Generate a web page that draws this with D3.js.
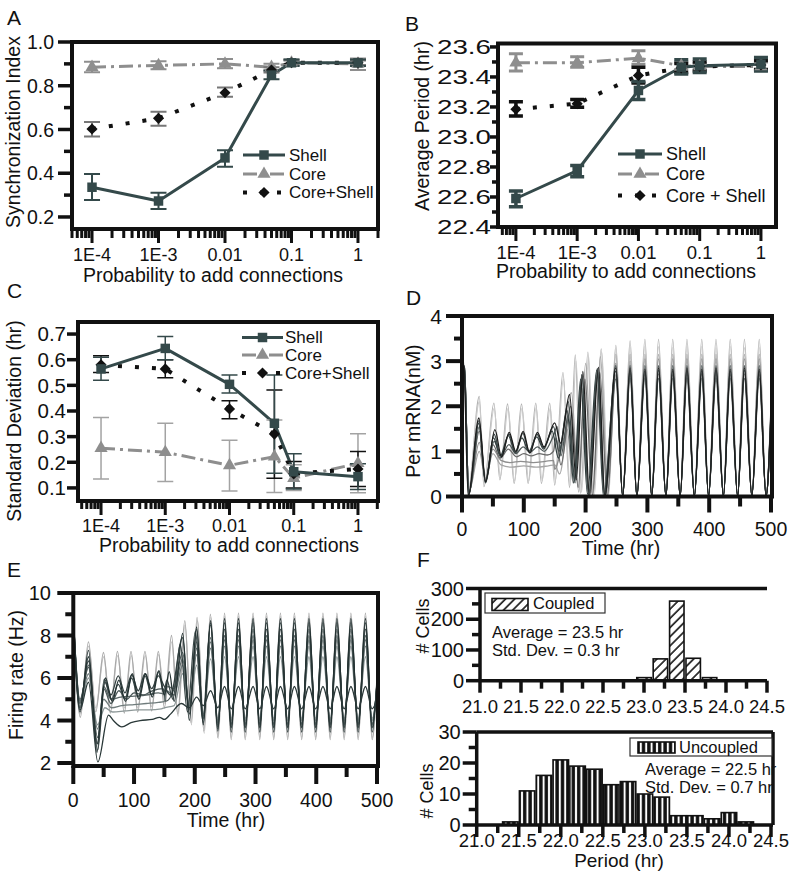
<!DOCTYPE html>
<html><head><meta charset="utf-8">
<script src="https://cdn.jsdelivr.net/npm/d3@7/dist/d3.min.js"></script>
<style>
html,body{margin:0;padding:0;background:#fff;}
svg{display:block;}
text{font-family:Arial,"Liberation Sans",Helvetica,sans-serif;fill:#111;}
</style></head>
<body>
<svg id="fig" width="793" height="881" xmlns="http://www.w3.org/2000/svg"></svg>
<script>
// ================= DATA =================
const probX = [1e-4, 1e-3, 0.01, 0.05, 0.1, 1];
const probTicks = [1e-4, 1e-3, 0.01, 0.1, 1];
const probTickLabels = ["1E-4", "1E-3", "0.01", "0.1", "1"];
const seriesNames = ["Shell", "Core", "Core+Shell"];

// Panel A: synchronization index
const syncShell   = [0.336, 0.273, 0.470, 0.849, 0.905, 0.905];
const syncShellLo = [0.278, 0.237, 0.430, 0.830, 0.890, 0.890];
const syncShellHi = [0.397, 0.311, 0.505, 0.870, 0.920, 0.920];
const syncCore    = [0.885, 0.893, 0.900, 0.885, 0.905, 0.900];
const syncCoreLo  = [0.862, 0.875, 0.880, 0.870, 0.890, 0.872];
const syncCoreHi  = [0.910, 0.912, 0.922, 0.900, 0.920, 0.925];
const syncBoth    = [0.602, 0.651, 0.768, 0.872, 0.905, 0.905];
const syncBothLo  = [0.568, 0.617, 0.750, 0.860, 0.895, 0.895];
const syncBothHi  = [0.634, 0.681, 0.792, 0.885, 0.915, 0.915];

// Panel B: average period (hr)
const perShell   = [22.590, 22.775, 23.310, 23.465, 23.475, 23.485];
const perShellLo = [22.535, 22.735, 23.250, 23.420, 23.430, 23.440];
const perShellHi = [22.640, 22.810, 23.370, 23.515, 23.520, 23.530];
const perCore    = [23.495, 23.495, 23.525, 23.475, 23.470, 23.470];
const perCoreLo  = [23.440, 23.465, 23.485, 23.450, 23.450, 23.445];
const perCoreHi  = [23.555, 23.535, 23.575, 23.500, 23.490, 23.500];
const perBoth    = [23.185, 23.222, 23.410, 23.460, 23.470, 23.480];
const perBothLo  = [23.140, 23.198, 23.360, 23.430, 23.440, 23.450];
const perBothHi  = [23.235, 23.250, 23.465, 23.490, 23.500, 23.510];

// Panel C: standard deviation (hr)
const sdShell   = [0.564, 0.644, 0.504, 0.352, 0.163, 0.144];
const sdShellLo = [0.520, 0.600, 0.470, 0.157, 0.096, 0.094];
const sdShellHi = [0.610, 0.690, 0.540, 0.540, 0.233, 0.194];
const sdCore    = [0.255, 0.239, 0.188, 0.222, 0.138, 0.196];
const sdCoreLo  = [0.135, 0.125, 0.088, 0.082, 0.090, 0.081];
const sdCoreHi  = [0.375, 0.352, 0.286, 0.365, 0.190, 0.311];
const sdBoth    = [0.580, 0.564, 0.408, 0.310, 0.155, 0.174];
const sdBothLo  = [0.550, 0.530, 0.370, 0.138, 0.100, 0.106];
const sdBothHi  = [0.615, 0.600, 0.440, 0.482, 0.203, 0.242];

// Panels D/E: shared landmark times of the synchronized regime (hr)
const syncPeakT   = [249, 272, 296, 318, 341, 364, 388, 411, 434, 457, 481];
const syncTroughT = [260, 283, 307, 330, 353, 376, 399, 423, 446, 469, 492];
const timeTicks = [0, 100, 200, 300, 400, 500];
const timeMinorTicks = [50, 150, 250, 350, 450];

// Panel D: Per mRNA (nM) traces – early landmarks [t, value]
const perTracePre = [
  [[0,2.9],[3,2.97],[10,0.07],[28,2.22],[35.5,0.22],[51.6,2.07],[61.3,0.37],[73.7,2.05],[84.4,0.29],[96.3,2.05],[107,0.29],[119.4,2.07],[128.5,0.29],[142,2.07],[150,0.25],[163.4,2.75],[174,0.2],[183.3,3.14],[192,0.07],[203.8,3.2],[212,0],[225.3,3.27],[236,0]],
  [[0,2.85],[3,2.9],[10,0.1],[28,2.1],[36,0.3],[52,1.95],[62,0.45],[74.5,1.95],[85,0.35],[97,1.95],[108,0.35],[120,1.97],[129.5,0.35],[143,1.97],[151,0.35],[164,2.6],[175,0.25],[184.5,3.0],[193.5,0.1],[205,3.1],[214,0.02],[226,3.2],[237,0]],
  [[0,2.8],[4,2.7],[11,0.1],[28,1.0],[38,0.4],[50,0.95],[63,0.7],[80,0.65],[100,0.68],[120,0.65],[140,0.68],[150,0.7],[158,0.5],[177,2.3],[189,0.1],[200,2.95],[212,0.02],[224,3.1],[236,0]],
  [[0,2.85],[4,2.75],[11,0.08],[28,1.2],[38,0.38],[50,1.05],[63,0.8],[78,0.75],[95,0.78],[115,0.75],[135,0.78],[148,0.8],[150,0.6],[158,0.9],[170,1.5],[180,0.3],[194,2.4],[205,0.05],[220,2.7],[232,0]],
  [[0,2.9],[4,2.8],[11,0.05],[28,1.45],[38,0.35],[50,1.15],[62,0.85],[75,1.05],[88,0.88],[100,0.95],[112,0.9],[125,0.95],[138,0.92],[148,1.0],[152,1.3],[160,0.7],[176,2.0],[188,0.2],[199,2.6],[211,0.02],[223,2.75],[235,0]],
  [[0,2.9],[4,2.8],[11,0.05],[28,1.55],[38,0.3],[52,1.22],[63,0.9],[76,1.15],[87,0.95],[99,1.1],[110,0.98],[122,1.1],[133,1.0],[148,1.35],[154,1.55],[160,0.9],[172,1.8],[182,0.35],[194,2.7],[205,0.02],[220,2.82],[231,0]],
  [[0,2.95],[4,2.85],[11,0.05],[27,1.62],[38,0.32],[51,1.3],[62,0.9],[75,1.35],[86,0.98],[97,1.3],[108,1.0],[121,1.32],[132,1.05],[146,1.45],[156,0.85],[170,1.9],[181,0.3],[192,2.6],[203,0.05],[218,2.8],[229,0]],
  [[0,2.95],[4,2.85],[11,0.03],[27.5,1.68],[38,0.31],[52,1.38],[63,0.86],[76,1.38],[87,0.97],[98.5,1.4],[109,0.98],[121.5,1.38],[132,1.08],[148,1.55],[157,1.0],[172,2.1],[183,0.3],[194,2.7],[205,0.02],[219,2.84],[230,0]],
  [[0,2.95],[3,2.9],[10,0.02],[27.4,1.74],[38.2,0.33],[53.2,1.48],[64,0.88],[76.3,1.42],[87.1,1.0],[98.9,1.44],[109.7,0.96],[122,1.42],[132.8,1.1],[150,1.63],[159.7,1.18],[174,2.26],[184.8,0.37],[195.6,2.77],[206.4,0],[221,2.86],[231,0]]
];
const perTracePeaks = [
  [3.35,3.45,3.48,3.48,3.48,3.48,3.48,3.48,3.48,3.48,3.48],
  [3.28,3.30,3.32,3.32,3.30,3.32,3.32,3.30,3.32,3.30,3.30],
  [3.15,3.15,3.15,3.15,3.15,3.15,3.15,3.15,3.15,3.15,3.15],
  [2.95,3.00,3.05,3.05,3.05,3.05,3.05,3.05,3.05,3.05,3.05],
  [2.70,2.72,2.70,2.72,2.70,2.70,2.72,2.70,2.70,2.72,2.70],
  [2.60,2.62,2.62,2.62,2.62,2.62,2.62,2.62,2.62,2.62,2.62],
  [2.78,2.80,2.78,2.80,2.78,2.80,2.78,2.80,2.78,2.80,2.78],
  [2.90,2.90,2.90,2.90,2.90,2.90,2.90,2.90,2.90,2.90,2.90],
  [2.85,2.85,2.82,2.85,2.82,2.85,2.82,2.85,2.82,2.85,2.82]
];
const perTraceTroughs = [
  [0,0,0,0,0,0,0,0,0,0,0],
  [0,0,0,0,0,0,0,0,0,0,0],
  [0,0,0,0,0,0,0,0,0,0,0],
  [0,0,0,0,0,0,0,0,0,0,0],
  [0,0,0,0,0,0,0,0,0,0,0],
  [0.02,0.02,0.02,0.02,0.02,0.02,0.02,0.02,0.02,0.02,0.02],
  [0.02,0.02,0.02,0.02,0.02,0.02,0.02,0.02,0.02,0.02,0.02],
  [0,0,0,0,0,0,0,0,0,0,0],
  [0,0,0,0,0,0,0,0,0,0,0]
];
const perTraceEnd = [2.05, 1.95, 2.0, 1.95, 1.8, 1.7, 1.8, 1.85, 1.9];
const perTraceColors = ["#b3b3b3","#cbcbcb","#a5a5a5","#8e8e8e","#6a6a6a","#4e5858","#2f3c3c","#3d4848","#1c1c1c"];

// Panel E: firing rate (Hz) traces
const fireTracePre = [
  [[0,9.1],[11,4.3],[25,7.5],[37,4.6],[50,7.0],[61,4.6],[73,7.05],[84,4.6],[95.5,7.05],[106,4.6],[118.5,7.05],[129,4.65],[140.5,7.1],[151,4.8],[162,7.7],[172.5,4.2],[184,8.5],[194.5,3.8],[204.5,8.7],[215.5,3.4],[226.5,8.85],[238.5,3.15]],
  [[0,9.2],[11.5,4.15],[25,7.7],[37,4.4],[49.7,7.2],[61,4.35],[72.7,7.25],[84,4.35],[95,7.25],[106,4.4],[118,7.25],[129,4.45],[140,7.25],[150,4.6],[161.7,8.0],[172,4.3],[183.6,8.7],[194,3.9],[203.8,8.85],[215,3.5],[225.7,9.0],[238,3.2]],
  [[0,9.0],[11,4.7],[25,6.0],[40,3.8],[52,4.6],[65,4.4],[85,4.45],[105,4.5],[125,4.5],[145,4.55],[150,4.6],[166,4.7],[180,6.2],[191,4.6],[203,6.6],[214,4.3],[226,6.9],[238,4.1]],
  [[0,8.9],[11,4.9],[25,6.2],[40,3.6],[50,5.0],[63,4.6],[80,4.7],[100,4.75],[120,4.8],[140,4.85],[150,4.9],[153,5.4],[166,5.2],[180,6.6],[191,4.7],[203,7.1],[214,4.3],[226,7.4],[238,4.0]],
  [[0,8.8],[11,4.9],[25,6.6],[40,2.9],[50,5.6],[62,5.0],[78,5.1],[100,5.15],[120,5.2],[140,5.3],[150,5.25],[155,5.6],[166,5.5],[180,6.9],[191,4.5],[203,7.4],[214,4.1],[226,7.7],[238,3.8]],
  [[0,8.85],[11,5.0],[25,6.5],[40,3.2],[50,5.5],[62,4.8],[75,5.4],[88,5.0],[100,5.3],[115,5.2],[130,5.4],[148,5.5],[152,4.9],[166,5.5],[180,7.2],[191,4.6],[203,7.7],[214,4.2],[226,7.9],[238,3.9]],
  [[0,8.8],[11,4.8],[25,6.8],[40,2.6],[52,5.8],[63,5.0],[74,5.7],[85,5.0],[96,6.0],[107,5.1],[118,6.1],[129,5.2],[140,6.3],[149,5.3],[154,5.9],[164,5.0],[176,7.6],[188,4.4],[201,8.2],[213,4.0],[226,8.5],[238,3.7]],
  [[0,8.95],[11,4.4],[25,7.3],[39,2.5],[51,5.95],[62,5.2],[74,6.1],[85,5.3],[96,6.15],[107,5.4],[118,6.2],[129,5.5],[140,6.1],[150,5.6],[160,5.2],[180,7.9],[191,4.3],[203,8.3],[214,3.9],[226,8.6],[238,3.6]],
  [[0,8.9],[11,4.6],[25,7.0],[39,2.9],[53,6.0],[64,4.9],[75,5.9],[86,4.9],[97,6.2],[108,5.0],[119,6.2],[130,5.1],[141,6.35],[150,5.2],[158,6.3],[166,4.9],[180,8.1],[191,4.0],[203,8.4],[214,3.8],[226,8.7],[238,3.5]],
  [[0,8.7],[11,4.5],[25,5.8],[40.4,2.05],[58,4.25],[66,4.0],[80,3.7],[95,3.9],[110,4.0],[130,4.05],[142,4.15],[150,4.05],[160,4.3],[178,4.8],[191,4.6],[203,5.1],[214,4.7],[226,5.4],[238,4.6]]
];
const fireTracePeaks = [
  [8.90,8.90,8.90,8.90,8.90,8.90,8.90,8.90,8.90,8.90,8.90],
  [9.05,9.05,9.05,9.05,9.05,9.05,9.05,9.05,9.05,9.05,9.05],
  [7.00,7.00,7.00,7.00,7.00,7.00,7.00,7.00,7.00,7.00,7.00],
  [7.50,7.50,7.50,7.50,7.50,7.50,7.50,7.50,7.50,7.50,7.50],
  [7.80,7.80,7.80,7.80,7.80,7.80,7.80,7.80,7.80,7.80,7.80],
  [8.00,8.00,8.00,8.00,8.00,8.00,8.00,8.00,8.00,8.00,8.00],
  [8.60,8.60,8.60,8.60,8.60,8.60,8.60,8.60,8.60,8.60,8.60],
  [8.30,8.30,8.30,8.30,8.30,8.30,8.30,8.30,8.30,8.30,8.30],
  [8.80,8.80,8.80,8.80,8.80,8.80,8.80,8.80,8.80,8.80,8.80],
  [5.60,5.60,5.60,5.60,5.60,5.60,5.60,5.60,5.60,5.60,5.60]
];
const fireTraceTroughs = [
  [3.20,3.20,3.20,3.20,3.20,3.20,3.20,3.20,3.20,3.20,3.20],
  [3.10,3.10,3.10,3.10,3.10,3.10,3.10,3.10,3.10,3.10,3.10],
  [4.10,4.10,4.10,4.10,4.10,4.10,4.10,4.10,4.10,4.10,4.10],
  [4.00,4.00,4.00,4.00,4.00,4.00,4.00,4.00,4.00,4.00,4.00],
  [3.80,3.80,3.80,3.80,3.80,3.80,3.80,3.80,3.80,3.80,3.80],
  [3.85,3.85,3.85,3.85,3.85,3.85,3.85,3.85,3.85,3.85,3.85],
  [3.65,3.65,3.65,3.65,3.65,3.65,3.65,3.65,3.65,3.65,3.65],
  [3.70,3.70,3.70,3.70,3.70,3.70,3.70,3.70,3.70,3.70,3.70],
  [3.45,3.45,3.45,3.45,3.45,3.45,3.45,3.45,3.45,3.45,3.45],
  [4.55,4.55,4.55,4.55,4.55,4.55,4.55,4.55,4.55,4.55,4.55]
];
const fireTraceEnd = [6.0, 6.1, 5.4, 5.6, 5.7, 5.7, 5.8, 5.8, 5.9, 5.0];
const fireTraceColors = ["#c6c6c6","#a9a9a9","#8d9898","#6f7b7b","#5b6767","#4b5858","#384646","#334040","#243232","#2a3838"];

// Panel F: period histograms
const coupledBins = [23.0, 23.2, 23.4, 23.6, 23.8];
const coupledCounts = [10, 71, 259, 73, 10];
const uncoupledBins = [21.4, 21.6, 21.8, 22.0, 22.2, 22.4, 22.6, 22.8, 23.0, 23.2, 23.4, 23.6, 23.8, 24.0, 24.2];
const uncoupledCounts = [1, 11, 16, 21, 19, 18, 13, 14, 10, 9, 3, 3, 2, 4, 1];
const periodTicks = [21.0, 21.5, 22.0, 22.5, 23.0, 23.5, 24.0, 24.5];
const periodMinorTicks = [21.25, 21.75, 22.25, 22.75, 23.25, 23.75, 24.25];

// ================= DRAWING =================
const svg = d3.select("#fig");
const defs = svg.append("defs");
const INK = "#111";

function label(x, y, s, size, anchor, rotate) {
  const t = svg.append("text").attr("x", x).attr("y", y)
    .attr("font-size", size).attr("text-anchor", anchor || "start").text(s);
  if (rotate) t.attr("transform", `rotate(-90 ${x} ${y})`);
  return t;
}

const STY = {
  shell: { color: "#34494a", dash: null, width: 3, sym: "square" },
  core:  { color: "#8e8e8e", dash: "14,5,3,5", width: 3, sym: "triangle" },
  both:  { color: "#111111", dash: "4,13", width: 4, sym: "diamond" }
};

function drawSym(g, sym, cx, cy, color) {
  if (sym === "square") {
    g.append("path").attr("d", d3.symbol(d3.symbolSquare, 90)())
      .attr("transform", `translate(${cx},${cy})`).attr("fill", color);
  } else if (sym === "triangle") {
    g.append("path").attr("d", d3.symbol(d3.symbolTriangle, 75)())
      .attr("transform", `translate(${cx},${cy})`).attr("fill", color);
  } else {
    g.append("path").attr("d", d3.symbol(d3.symbolSquare, 62)())
      .attr("transform", `translate(${cx},${cy}) rotate(45)`).attr("fill", color);
  }
}

function logPanel(o) {
  const x = d3.scaleLog().domain(o.xDomain).range([o.left, o.right]);
  const y = d3.scaleLinear().domain(o.yDomain).range([o.bottom, o.top]);
  const g = svg.append("g");
  const isDecade = d => Math.abs(Math.log10(d) - Math.round(Math.log10(d))) < 1e-6;
  g.selectAll(null).data(x.ticks()).enter().append("line")
    .attr("x1", d => x(d)).attr("x2", d => x(d))
    .attr("y1", o.bottom).attr("y2", d => o.bottom + (isDecade(d) ? o.xMajLen : o.xMinLen))
    .attr("stroke", INK).attr("stroke-width", 3);
  g.selectAll(null).data(probTicks).enter().append("text")
    .attr("x", d => x(d)).attr("y", o.xLabY).attr("text-anchor", "middle")
    .attr("font-size", o.xTickFont).text((d, i) => probTickLabels[i]);
  g.selectAll(null).data(o.yMajor).enter().append("line")
    .attr("x1", o.left - o.yMajLen).attr("x2", o.left).attr("y1", d => y(d)).attr("y2", d => y(d))
    .attr("stroke", INK).attr("stroke-width", 3.5);
  g.selectAll(null).data(o.yMinor).enter().append("line")
    .attr("x1", o.left - o.yMinLen).attr("x2", o.left).attr("y1", d => y(d)).attr("y2", d => y(d))
    .attr("stroke", INK).attr("stroke-width", 3.5);
  const yl = g.selectAll(null).data(o.yMajor).enter().append("text")
    .attr("x", o.yLabX).attr("y", d => y(d)).attr("dy", "0.36em").attr("text-anchor", "end")
    .attr("font-size", o.yTickFont).text(d => d3.format(".1f")(d));
  if (o.yLabLen) yl.attr("textLength", o.yLabLen).attr("lengthAdjust", "spacingAndGlyphs");
  const line = d3.line().x((d, i) => x(probX[i])).y(d => y(d));
  o.series.forEach(s => {
    g.append("path").datum(s.vals).attr("d", line).attr("fill", "none")
      .attr("stroke", s.sty.color).attr("stroke-width", s.sty.width)
      .attr("stroke-dasharray", s.sty.dash).attr("stroke-linejoin", "round");
  });
  o.series.forEach(s => {
    s.vals.forEach((v, i) => {
      const cx = x(probX[i]), c = s.cap;
      g.append("path")
        .attr("d", `M${cx - c},${y(s.lo[i])}H${cx + c}M${cx},${y(s.lo[i])}V${y(s.hi[i])}M${cx - c},${y(s.hi[i])}H${cx + c}`)
        .attr("fill", "none").attr("stroke", s.errColor).attr("stroke-width", s.errW);
    });
  });
  o.series.forEach(s => {
    s.vals.forEach((v, i) => drawSym(g, s.sty.sym, x(probX[i]), y(v), s.sty.color));
  });
  g.append("rect").attr("x", o.left).attr("y", o.top)
    .attr("width", o.right - o.left).attr("height", o.bottom - o.top)
    .attr("fill", "none").attr("stroke", INK).attr("stroke-width", 4);
  o.legend.rows.forEach((r, i) => {
    const ly = o.legend.ys[i];
    g.append("line").attr("x1", o.legend.x0).attr("x2", o.legend.x1).attr("y1", ly).attr("y2", ly)
      .attr("stroke", r.sty.color).attr("stroke-width", r.sty.width).attr("stroke-dasharray", r.sty.dash);
    drawSym(g, r.sty.sym, (o.legend.x0 + o.legend.x1) / 2, ly, r.sty.color);
    label(o.legend.tx, ly + o.legend.font * 0.34, r.name, o.legend.font);
  });
  label(o.titleX, o.titleY, "Probability to add connections", o.titleFont, "middle");
  label(o.yTitleX, o.yTitleY, o.yTitle, o.titleFont, "middle", true);
  label(o.letterX, o.letterY, o.letter, 21);
}

// ---------- Panel A ----------
logPanel({
  left: 72, right: 378, top: 42, bottom: 229,
  xDomain: [5e-5, 2], yDomain: [0.145, 1.0],
  yMajor: [0.2, 0.4, 0.6, 0.8, 1.0], yMinor: [0.3, 0.5, 0.7, 0.9],
  xMajLen: 14, xMinLen: 9, yMajLen: 14, yMinLen: 8, yLabX: 54, xLabY: 261, xTickFont: 18, yTickFont: 19.5,
  series: [
    { vals: syncCore, lo: syncCoreLo, hi: syncCoreHi, sty: STY.core, errColor: "#8e8e8e", errW: 2, cap: 8 },
    { vals: syncBoth, lo: syncBothLo, hi: syncBothHi, sty: STY.both, errColor: "#777", errW: 2, cap: 8 },
    { vals: syncShell, lo: syncShellLo, hi: syncShellHi, sty: STY.shell, errColor: "#34494a", errW: 2, cap: 8 }
  ],
  legend: { x0: 243, x1: 285, tx: 289, ys: [155, 174, 192.5], font: 17,
    rows: [{ name: seriesNames[0], sty: STY.shell }, { name: seriesNames[1], sty: STY.core }, { name: seriesNames[2], sty: STY.both }] },
  titleX: 213, titleY: 282, titleFont: 19.5,
  yTitle: "Synchronization Index", yTitleX: 20, yTitleY: 132,
  letter: "A", letterX: 7, letterY: 25
});

// ---------- Panel B ----------
logPanel({
  left: 498, right: 776, top: 43.5, bottom: 227,
  xDomain: [5.1e-5, 1.76], yDomain: [22.4, 23.623],
  yMajor: [22.4, 22.6, 22.8, 23.0, 23.2, 23.4, 23.6], yMinor: [22.5, 22.7, 22.9, 23.1, 23.3, 23.5],
  xMajLen: 14, xMinLen: 8, yMajLen: 8, yMinLen: 6, yLabX: 491, xLabY: 258.5, xTickFont: 18.5, yTickFont: 19.5, yLabLen: 54,
  series: [
    { vals: perCore, lo: perCoreLo, hi: perCoreHi, sty: STY.core, errColor: "#8e8e8e", errW: 3, cap: 7 },
    { vals: perBoth, lo: perBothLo, hi: perBothHi, sty: STY.both, errColor: "#111", errW: 3.5, cap: 7 },
    { vals: perShell, lo: perShellLo, hi: perShellHi, sty: STY.shell, errColor: "#34494a", errW: 3.5, cap: 7 }
  ],
  legend: { x0: 618, x1: 662, tx: 666, ys: [154, 174, 195.5], font: 18,
    rows: [{ name: seriesNames[0], sty: STY.shell }, { name: seriesNames[1], sty: STY.core }, { name: "Core + Shell", sty: STY.both }] },
  titleX: 626, titleY: 277.5, titleFont: 19.5,
  yTitle: "Average Period (hr)", yTitleX: 429, yTitleY: 126,
  letter: "B", letterX: 405, letterY: 31
});

// ---------- Panel C ----------
logPanel({
  left: 78, right: 378, top: 322, bottom: 501,
  xDomain: [4.38e-5, 2.05], yDomain: [0.049, 0.747],
  yMajor: [0.1, 0.2, 0.3, 0.4, 0.5, 0.6, 0.7], yMinor: [],
  xMajLen: 14, xMinLen: 8, yMajLen: 11, yMinLen: 6, yLabX: 66, xLabY: 532, xTickFont: 18, yTickFont: 20.5,
  series: [
    { vals: sdCore, lo: sdCoreLo, hi: sdCoreHi, sty: STY.core, errColor: "#a3a3a3", errW: 1.5, cap: 8 },
    { vals: sdBoth, lo: sdBothLo, hi: sdBothHi, sty: STY.both, errColor: "#111", errW: 1.5, cap: 8 },
    { vals: sdShell, lo: sdShellLo, hi: sdShellHi, sty: STY.shell, errColor: "#34494a", errW: 1.5, cap: 8 }
  ],
  legend: { x0: 242, x1: 283, tx: 285, ys: [337.5, 355, 373], font: 17,
    rows: [{ name: seriesNames[0], sty: STY.shell }, { name: seriesNames[1], sty: STY.core }, { name: seriesNames[2], sty: STY.both }] },
  titleX: 229, titleY: 552, titleFont: 19.5,
  yTitle: "Standard Deviation (hr)", yTitleX: 21, yTitleY: 421,
  letter: "C", letterX: 7, letterY: 298
});

// ---------- Trace panels (D, E) ----------
function buildTrace(pre, peaks, troughs, end) {
  const pts = pre.map(p => ({ t: p[0], v: p[1] }));
  peaks.forEach((v, i) => pts.push({ t: syncPeakT[i], v: v }));
  troughs.forEach((v, i) => pts.push({ t: syncTroughT[i], v: v }));
  pts.push({ t: 500, v: end });
  pts.sort((a, b) => a.t - b.t);
  return pts;
}

function tracePanel(o) {
  const x = d3.scaleLinear().domain([0, 500]).range([o.left, o.right0]);
  const y = d3.scaleLinear().domain(o.yDomain).range([o.bottom, o.top]);
  const g = svg.append("g");
  defs.append("clipPath").attr("id", o.id).append("rect")
    .attr("x", o.left).attr("y", o.top).attr("width", o.right - o.left).attr("height", o.bottom - o.top);
  const line = d3.line().x(d => x(d.t)).y(d => y(d.v)).curve(d3.curveMonotoneX);
  const lg = g.append("g").attr("clip-path", `url(#${o.id})`);
  o.pre.forEach((pre, i) => {
    lg.append("path").datum(buildTrace(pre, o.peaks[i], o.troughs[i], o.end[i]))
      .attr("d", line).attr("fill", "none").attr("stroke", o.colors[i])
      .attr("stroke-width", 1.3).attr("stroke-linejoin", "round");
  });
  g.append("rect").attr("x", o.left).attr("y", o.top)
    .attr("width", o.right - o.left).attr("height", o.bottom - o.top)
    .attr("fill", "none").attr("stroke", INK).attr("stroke-width", 4);
  g.selectAll(null).data(timeTicks).enter().append("line")
    .attr("x1", d => x(d)).attr("x2", d => x(d)).attr("y1", o.bottom).attr("y2", o.bottom + o.xMajLen)
    .attr("stroke", INK).attr("stroke-width", 4);
  g.selectAll(null).data(timeMinorTicks).enter().append("line")
    .attr("x1", d => x(d)).attr("x2", d => x(d)).attr("y1", o.bottom).attr("y2", o.bottom + o.xMinLen)
    .attr("stroke", INK).attr("stroke-width", 4);
  g.selectAll(null).data(timeTicks).enter().append("text")
    .attr("x", d => x(d)).attr("y", o.xLabY).attr("text-anchor", "middle")
    .attr("font-size", o.tickFont).text(d => d);
  g.selectAll(null).data(o.yMajor).enter().append("line")
    .attr("x1", o.left - o.yMajLen).attr("x2", o.left).attr("y1", d => y(d)).attr("y2", d => y(d))
    .attr("stroke", INK).attr("stroke-width", 4);
  g.selectAll(null).data(o.yMinor).enter().append("line")
    .attr("x1", o.left - o.yMinLen).attr("x2", o.left).attr("y1", d => y(d)).attr("y2", d => y(d))
    .attr("stroke", INK).attr("stroke-width", 4);
  g.selectAll(null).data(o.yMajor).enter().append("text")
    .attr("x", o.yLabX).attr("y", d => y(d)).attr("dy", "0.36em").attr("text-anchor", "end")
    .attr("font-size", o.yTickFont).text(d => d);
  label(o.titleX, o.titleY, "Time (hr)", 19.5, "middle");
  label(o.yTitleX, o.yTitleY, o.yTitle, 19.5, "middle", true);
  label(o.letterX, o.letterY, o.letter, 21);
}

tracePanel({
  id: "clipD", left: 462, right: 772, right0: 771, top: 316, bottom: 496.5,
  yDomain: [0, 4], yMajor: [0, 1, 2, 3, 4], yMinor: [0.5, 1.5, 2.5, 3.5],
  pre: perTracePre, peaks: perTracePeaks, troughs: perTraceTroughs, end: perTraceEnd, colors: perTraceColors,
  xMajLen: 16, xMinLen: 10, yMajLen: 16, yMinLen: 8, yLabX: 442, xLabY: 535.5, tickFont: 19.5, yTickFont: 21,
  titleX: 621, titleY: 554.5, yTitle: "Per mRNA(nM)", yTitleX: 420, yTitleY: 411,
  letter: "D", letterX: 406, letterY: 305
});

tracePanel({
  id: "clipE", left: 73.3, right: 378, right0: 377, top: 593, bottom: 766,
  yDomain: [1.86, 10], yMajor: [2, 4, 6, 8, 10], yMinor: [3, 5, 7, 9],
  pre: fireTracePre, peaks: fireTracePeaks, troughs: fireTraceTroughs, end: fireTraceEnd, colors: fireTraceColors,
  xMajLen: 18, xMinLen: 11, yMajLen: 16, yMinLen: 8, yLabX: 51, xLabY: 806.5, tickFont: 19.5, yTickFont: 20,
  titleX: 226, titleY: 826.5, yTitle: "Firing rate (Hz)", yTitleX: 23, yTitleY: 675,
  letter: "E", letterX: 7, letterY: 577
});

// ---------- Panel F: histograms ----------
const hatch = defs.append("pattern").attr("id", "hatch").attr("patternUnits", "userSpaceOnUse")
  .attr("width", 6.5).attr("height", 6.5).attr("patternTransform", "rotate(45)");
hatch.append("rect").attr("width", 6.5).attr("height", 6.5).attr("fill", "#fff");
hatch.append("line").attr("x1", 1).attr("x2", 1).attr("y1", 0).attr("y2", 6.5)
  .attr("stroke", "#111").attr("stroke-width", 1.6);
const stripes = defs.append("pattern").attr("id", "stripes").attr("patternUnits", "userSpaceOnUse")
  .attr("width", 5.4).attr("height", 10);
stripes.append("rect").attr("width", 5.4).attr("height", 10).attr("fill", "#111");
stripes.append("rect").attr("x", 2.6).attr("width", 2).attr("height", 10).attr("fill", "#fff");

function histPanel(o) {
  const x = d3.scaleLinear().domain([21, 24.5]).range([o.left, o.right]);
  const y = d3.scaleLinear().domain(o.yDomain).range([o.bottom, o.top]);
  const g = svg.append("g");
  g.selectAll(null).data(o.bins).enter().append("rect")
    .attr("x", d => x(d - o.barW / 2)).attr("width", d => x(d + o.barW / 2) - x(d - o.barW / 2))
    .attr("y", (d, i) => y(o.counts[i])).attr("height", (d, i) => y(0) - y(o.counts[i]))
    .attr("fill", o.fill).attr("stroke", "#111").attr("stroke-width", 1.6);
  g.append("line").attr("x1", o.left).attr("x2", o.frameRight).attr("y1", o.bottom).attr("y2", o.bottom)
    .attr("stroke", INK).attr("stroke-width", 3.5);
  g.append("line").attr("x1", o.left).attr("x2", o.left).attr("y1", o.top).attr("y2", o.bottom)
    .attr("stroke", INK).attr("stroke-width", 3.5);
  g.append("line").attr("x1", o.left).attr("x2", o.frameRight).attr("y1", o.top).attr("y2", o.top)
    .attr("stroke", INK).attr("stroke-width", 3.5);
  if (o.rightLine) g.append("line").attr("x1", o.frameRight).attr("x2", o.frameRight).attr("y1", o.top).attr("y2", o.bottom)
    .attr("stroke", INK).attr("stroke-width", 3.5);
  g.selectAll(null).data(periodTicks).enter().append("line")
    .attr("x1", d => x(d)).attr("x2", d => x(d)).attr("y1", o.bottom).attr("y2", o.bottom + 12)
    .attr("stroke", INK).attr("stroke-width", 3.5);
  g.selectAll(null).data(periodMinorTicks).enter().append("line")
    .attr("x1", d => x(d)).attr("x2", d => x(d)).attr("y1", o.bottom).attr("y2", o.bottom + 8)
    .attr("stroke", INK).attr("stroke-width", 3.5);
  g.selectAll(null).data(periodTicks).enter().append("text")
    .attr("x", d => x(d)).attr("y", o.xLabY).attr("text-anchor", "middle")
    .attr("font-size", 18.5).text(d => d3.format(".1f")(d));
  g.selectAll(null).data(o.yMajor).enter().append("line")
    .attr("x1", o.left - 14).attr("x2", o.left).attr("y1", d => y(d)).attr("y2", d => y(d))
    .attr("stroke", INK).attr("stroke-width", 3.5);
  g.selectAll(null).data(o.yMinor).enter().append("line")
    .attr("x1", o.left - 8).attr("x2", o.left).attr("y1", d => y(d)).attr("y2", d => y(d))
    .attr("stroke", INK).attr("stroke-width", 3.5);
  g.selectAll(null).data(o.yMajor).enter().append("text")
    .attr("x", o.left - 16).attr("y", d => y(d)).attr("dy", "0.36em").attr("text-anchor", "end")
    .attr("font-size", 20).text(d => d);
  g.append("rect").attr("x", o.box[0]).attr("y", o.box[1]).attr("width", o.box[2]).attr("height", o.box[3])
    .attr("fill", "#fff").attr("stroke", "#333").attr("stroke-width", 1.2);
  g.append("rect").attr("x", o.sw[0]).attr("y", o.sw[1]).attr("width", o.sw[2]).attr("height", o.sw[3])
    .attr("fill", o.fill).attr("stroke", "#111").attr("stroke-width", 1.6);
  label(o.legX, o.legY, o.legName, 16.5);
  label(o.statX, o.statY[0], o.stats[0], 16.5);
  label(o.statX, o.statY[1], o.stats[1], 16.5);
  label(o.yTitleX, o.yTitleY, "# Cells", 18, "middle", true);
}

histPanel({
  left: 480, right: 767, frameRight: 767, top: 588.5, bottom: 680.7, rightLine: false,
  yDomain: [0, 300], yMajor: [0, 100, 200, 300], yMinor: [50, 150, 250],
  bins: coupledBins, counts: coupledCounts, barW: 0.176, fill: "url(#hatch)",
  xLabY: 713, box: [485, 593, 120, 20], sw: [492, 598.5, 36, 12],
  legX: 533, legY: 609, legName: "Coupled",
  statX: 492, statY: [638, 656], stats: ["Average = 23.5 hr", "Std. Dev. = 0.3 hr"],
  yTitleX: 429, yTitleY: 626
});

histPanel({
  left: 476.7, right: 771, frameRight: 773, top: 732, bottom: 825, rightLine: true,
  yDomain: [0, 30], yMajor: [0, 10, 20, 30], yMinor: [5, 15, 25],
  bins: uncoupledBins, counts: uncoupledCounts, barW: 0.184, fill: "url(#stripes)",
  xLabY: 846.5, box: [630, 738, 142, 18], sw: [638, 742, 37, 11],
  legX: 679, legY: 752.5, legName: "Uncoupled",
  statX: 645, statY: [775, 793], stats: ["Average = 22.5 hr", "Std. Dev. = 0.7 hr"],
  yTitleX: 433, yTitleY: 791
});
label(619, 867, "Period (hr)", 19, "middle");
label(417, 567, "F", 21);
</script>
</body></html>
